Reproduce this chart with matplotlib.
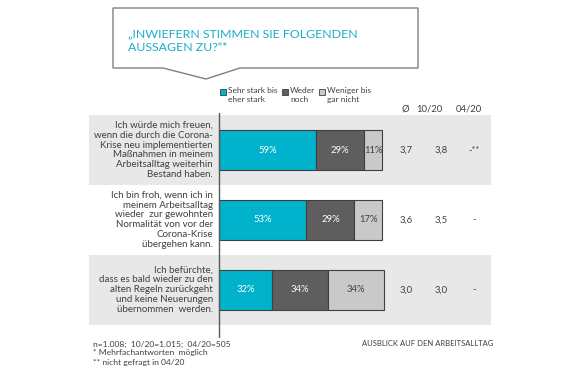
import numpy as np
import matplotlib.pyplot as plt
from matplotlib.patches import Polygon, Rectangle

plt.rcParams['font.family'] = ['Lato', 'DejaVu Sans']

# data
statements = [
    "Ich würde mich freuen,\nwenn die durch die Corona-\nKrise neu implementierten\nMaßnahmen in meinem\nArbeitsalltag weiterhin\nBestand haben.",
    "Ich bin froh, wenn ich in\nmeinem Arbeitsalltag\nwieder  zur gewohnten\nNormalität von vor der\nCorona-Krise\nübergehen kann.",
    "Ich befürchte,\ndass es bald wieder zu den\nalten Regeln zurückgeht\nund keine Neuerungen\nübernommen  werden.",
]
stark = [59, 53, 32]
weder = [29, 29, 34]
weniger = [11, 17, 34]
mean_now = ["3,7", "3,6", "3,0"]
mean_1020 = ["3,8", "3,5", "3,0"]
mean_0420 = ["-**", "-", "-"]
legend_labels = ["Sehr stark bis\neher stark", "Weder\nnoch", "Weniger bis\ngar nicht"]
col_heads = ["Ø", "10/20", "04/20"]

c_cyan = '#00B2CB'
c_dark = '#5E5E5E'
c_light = '#C9C9C9'
c_band = '#E8E8E8'
c_text = '#404040'
c_edge = '#3F3F3F'

W, H = 580, 375
fig = plt.figure(figsize=(5.8, 3.75), dpi=100)

def fx(px):
    return px / W

def fy(py):
    return 1 - py / H

# main axes: x=0 at px 219, 1.65 px per percent
ax = fig.add_axes([fx(89), fy(338), fx(491) - fx(89), (338 - 113) / H])
x0 = (89 - 219) / 1.65
x1 = (491 - 219) / 1.65
ax.set_xlim(x0, x1)
ax.set_ylim(2.69, -0.53)
ax.axis('off')

y = np.arange(len(statements))
for i in y:
    if i % 2 == 0:
        ax.axhspan(i - 0.5, i + 0.5, color=c_band, lw=0, zorder=0)

h = 0.57
left = np.zeros(3)
for vals, col, tcol in [(stark, c_cyan, 'white'), (weder, c_dark, 'white'), (weniger, c_light, c_text)]:
    vals = np.array(vals)
    ax.barh(y, vals, left=left, height=h, color=col, edgecolor=c_edge, lw=0.8, zorder=2)
    for i in y:
        ax.text(left[i] + vals[i] / 2, i, f"{vals[i]}%", ha='center', va='center',
                fontsize=6.8, color=tcol, zorder=3)
    left = left + vals

ax.axvline(0, color='#595959', lw=1, zorder=3)

for i in y:
    ax.text(-3.6, i, statements[i], ha='right', va='center', fontsize=7,
            color=c_text, linespacing=1.12)

col_x = [(406 - 219) / 1.65, (441 - 219) / 1.65, (474 - 219) / 1.65]
for xc, vals in zip(col_x, [mean_now, mean_1020, mean_0420]):
    for i in y:
        ax.text(xc, i, vals[i], ha='center', va='center', fontsize=6.8, color=c_text)

head_x = [(405 - 219) / 1.65, (429 - 219) / 1.65, (469 - 219) / 1.65]
for xc, t in zip(head_x, col_heads):
    ax.text(xc, (109 - 150) / 70, t, ha='center', va='center', fontsize=6.8, color=c_text)

# legend
leg_x = [220, 282, 319]
for lx, col, lab in zip(leg_x, [c_cyan, c_dark, c_light], legend_labels):
    fig.patches.append(Rectangle((fx(lx), fy(95)), 6 / W, 6 / H, transform=fig.transFigure,
                                 facecolor=col, edgecolor=c_edge, lw=0.6))
    fig.text(fx(lx + 8), fy(87), lab, ha='left', va='top', fontsize=6,
             color=c_text, linespacing=1.3)

# callout box
pts = [(113, 8), (418, 8), (418, 68), (240, 68), (206, 79), (163, 68), (113, 68)]
fig.patches.append(Polygon([(fx(a), fy(b)) for a, b in pts], closed=True,
                           transform=fig.transFigure, facecolor='white',
                           edgecolor='#76838A', lw=1))
fig.text(fx(128), fy(40.5), "„INWIEFERN STIMMEN SIE FOLGENDEN\nAUSSAGEN ZU?“*", ha='left', va='center',
         fontsize=8.9, color='#1AAFC8', linespacing=1.3)

# footnotes
foot = ["n=1.008;  10/20=1.015;  04/20=505", "* Mehrfachantworten  möglich", "** nicht gefragt in 04/20"]
for k, t in enumerate(foot):
    fig.text(fx(93), fy(344 + 9 * k), t, ha='left', va='center', fontsize=6.1, color=c_text)
fig.text(fx(362), fy(344), "AUSBLICK AUF DEN ARBEITSALLTAG", ha='left', va='center',
         fontsize=5.5, color=c_text)

fig.savefig('out.png', dpi=100)
